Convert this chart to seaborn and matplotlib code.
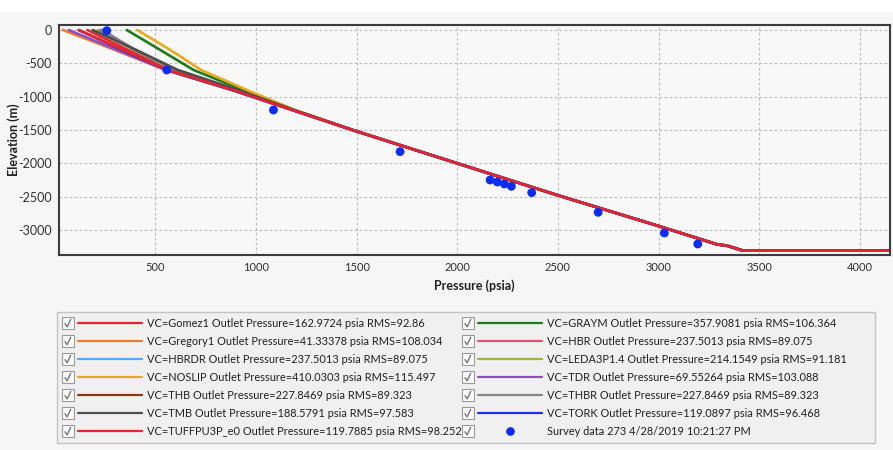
import matplotlib
matplotlib.use("Agg")
import matplotlib.pyplot as plt
import seaborn as sns
import pandas as pd
from matplotlib.lines import Line2D
from matplotlib.patches import Rectangle
from matplotlib.legend_handler import HandlerBase

# ---------------- data ----------------
models = ["Gomez1", "GRAYM", "Gregory1", "HBR", "HBRDR", "LEDA3P1.4", "NOSLIP",
          "TDR", "THB", "THBR", "TMB", "TORK", "TUFFPU3P_e0"]
outlet_p = ["162.9724", "357.9081", "41.33378", "237.5013", "237.5013", "214.1549",
            "410.0303", "69.55264", "227.8469", "227.8469", "188.5791", "119.0897", "119.7885"]
rms = ["92.86", "106.364", "108.034", "89.075", "89.075", "91.181", "115.497",
       "103.088", "89.323", "89.323", "97.583", "96.468", "98.252"]
colors = ["#E8242C", "#1B7A1B", "#F47B26", "#E2507C", "#5BA6EE", "#A3B24A", "#E9A81C",
          "#8A4FC4", "#8B3A10", "#858585", "#4E4E4E", "#1F30E6", "#E8242C"]

# upper (model-specific) part of each curve: elevations and pressures
elev_top = [0, -300, -600, -900, -1200]
p_gomez1 = [163, 365, 568, 888, 1182]
p_graym = [358, 525, 690, 935, 1190]
p_gregory1 = [41, 300, 552, 882, 1180]
p_hbr = [237.5, 395, 598, 900, 1184]
p_hbrdr = [237.5, 395, 598, 900, 1184]
p_leda = [214, 395, 600, 902, 1185]
p_noslip = [410, 575, 728, 955, 1195]
p_tdr = [70, 310, 553, 882, 1180]
p_thb = [228, 400, 605, 905, 1186]
p_thbr = [228, 400, 605, 905, 1186]
p_tmb = [189, 405, 612, 910, 1188]
p_tork = [119, 335, 557, 882, 1180]
p_tuffpu3p = [120, 340, 560, 885, 1181]
p_top = [p_gomez1, p_graym, p_gregory1, p_hbr, p_hbrdr, p_leda, p_noslip,
         p_tdr, p_thb, p_thbr, p_tmb, p_tork, p_tuffpu3p]

# common (converged) lower part shared by all models
elev_common = [-1500, -2000, -2480, -2940, -3215, -3235, -3310, -3310]
p_common = [1480, 2000, 2500, 3000, 3290, 3340, 3420, 4300]

# survey measurements
survey_p = [259, 557, 1087, 1716, 2163, 2199, 2234, 2269, 2370, 2700, 3029, 3195]
survey_e = [-10, -600, -1200, -1825, -2250, -2280, -2310, -2345, -2440, -2735, -3045, -3210]

x_ticks = [500, 1000, 1500, 2000, 2500, 3000, 3500, 4000]
y_ticks = [0, -500, -1000, -1500, -2000, -2500, -3000]

# ---------------- build table ----------------
rows = []
for m, ptop in zip(models, p_top):
    for p, e in zip(ptop + p_common, elev_top + elev_common):
        rows.append({"model": m, "pressure": p, "elevation": e})
df = pd.DataFrame(rows)

# ---------------- figure ----------------
sns.set_theme(style="whitegrid")
plt.rcParams["font.family"] = ["Lato", "DejaVu Sans"]

W, H = 893, 450
fig = plt.figure(figsize=(W / 100, H / 100), dpi=100, facecolor="#F6F6F6")
fig.patches.append(Rectangle((0, 1 - 12 / H), 1, 12 / H, transform=fig.transFigure,
                             facecolor="white", edgecolor="none", zorder=0))

ax = fig.add_axes([58.7 / W, 1 - 255 / H, (890 - 58.7) / W, (255 - 25) / H])
ax.set_facecolor("#F8F8F8")

palette = dict(zip(models, colors))
sns.lineplot(data=df, x="pressure", y="elevation", hue="model", hue_order=models,
             palette=palette, sort=False, estimator=None, legend=False,
             linewidth=1.9, ax=ax)
sns.scatterplot(x=survey_p, y=survey_e, color="#0A2CF5", s=40, edgecolor="none",
                ax=ax, zorder=5, legend=False)

ax.set_xlim(20, 4150)
ax.set_ylim(-3375, 75)
ax.set_xticks(x_ticks)
ax.set_xticklabels([str(t) for t in x_ticks], fontsize=8, color="#303030")
ax.set_yticks(y_ticks)
ax.set_yticklabels([str(t) for t in y_ticks], fontsize=9, color="#303030")
ax.tick_params(axis="both", length=0, pad=5)
ax.grid(True, color="#BDBDBD", linestyle=(0, (2.5, 2)), linewidth=0.8)
for s in ax.spines.values():
    s.set_color("#3C3C3C")
    s.set_linewidth(1.5)
ax.set_xlabel("Pressure (psia)", fontsize=9, fontweight="bold", color="#202020")
ax.set_ylabel("Elevation (m)", fontsize=9, fontweight="bold", color="#202020")
ax.xaxis.set_label_coords(0.5, -0.105)
ax.yaxis.set_label_coords(-0.047, 0.5)

# ---------------- legend ----------------
fig.patches.append(Rectangle((56.7 / W, 1 - 442.5 / H), (875 - 56.7) / W, (442.5 - 312.3) / H,
                             transform=fig.transFigure, facecolor="#F0F0F0",
                             edgecolor="#C4C4C4", linewidth=1.0, zorder=1))

FS = 7.9


class CheckHandler(HandlerBase):
    def create_artists(self, legend, orig, xd, yd, width, height, fontsize, trans):
        cy = height / 2 - yd
        x0 = -xd
        box = 8.6
        rect = Rectangle((x0, cy - box / 2), box, box, facecolor="#FBFBFB",
                         edgecolor="#9A9A9A", linewidth=0.8, transform=trans)
        chk = Line2D([x0 + 2.3, x0 + 3.9, x0 + 6.5], [cy - 0.3, cy - 2.6, cy + 2.9],
                     color="#6A6A6A", linewidth=0.9, transform=trans)
        arts = [rect, chk]
        if orig.get_marker() not in (None, "None", "", " "):
            m = Line2D([x0 + 34.5], [cy], marker="o", markersize=5.2, linestyle="none",
                       color=orig.get_color(), transform=trans)
            arts.append(m)
        else:
            ln = Line2D([x0 + 12.0, x0 + width], [cy, cy], color=orig.get_color(),
                        linewidth=1.6, transform=trans)
            arts.append(ln)
        return arts


handles = [Line2D([], [], color=c) for c in colors]
labels = [f"VC={m} Outlet Pressure={p} psia RMS={r}" for m, p, r in zip(models, outlet_p, rms)]
handles.append(Line2D([], [], color="#0A2CF5", marker="o", linestyle="none"))
labels.append("Survey data 273 4/28/2019 10:21:27 PM")

left_h = handles[0::2]
left_l = labels[0::2]
right_h = handles[1::2]
right_l = labels[1::2]

common_kw = dict(loc="upper left", frameon=False, fontsize=FS, borderpad=0,
                 borderaxespad=0, handlelength=57.6 / FS, handletextpad=0.45,
                 labelspacing=0.64, handler_map={Line2D: CheckHandler()},
                 labelcolor="#202020")
leg1 = fig.legend(left_h, left_l, bbox_to_anchor=(61.7 / W, 1 - 318.0 / H), **common_kw)
leg2 = fig.legend(right_h, right_l, bbox_to_anchor=(461.7 / W, 1 - 318.0 / H), **common_kw)
for lg in (leg1, leg2):
    lg.set_zorder(3)

fig.savefig("out.png", dpi=100, facecolor=fig.get_facecolor())
